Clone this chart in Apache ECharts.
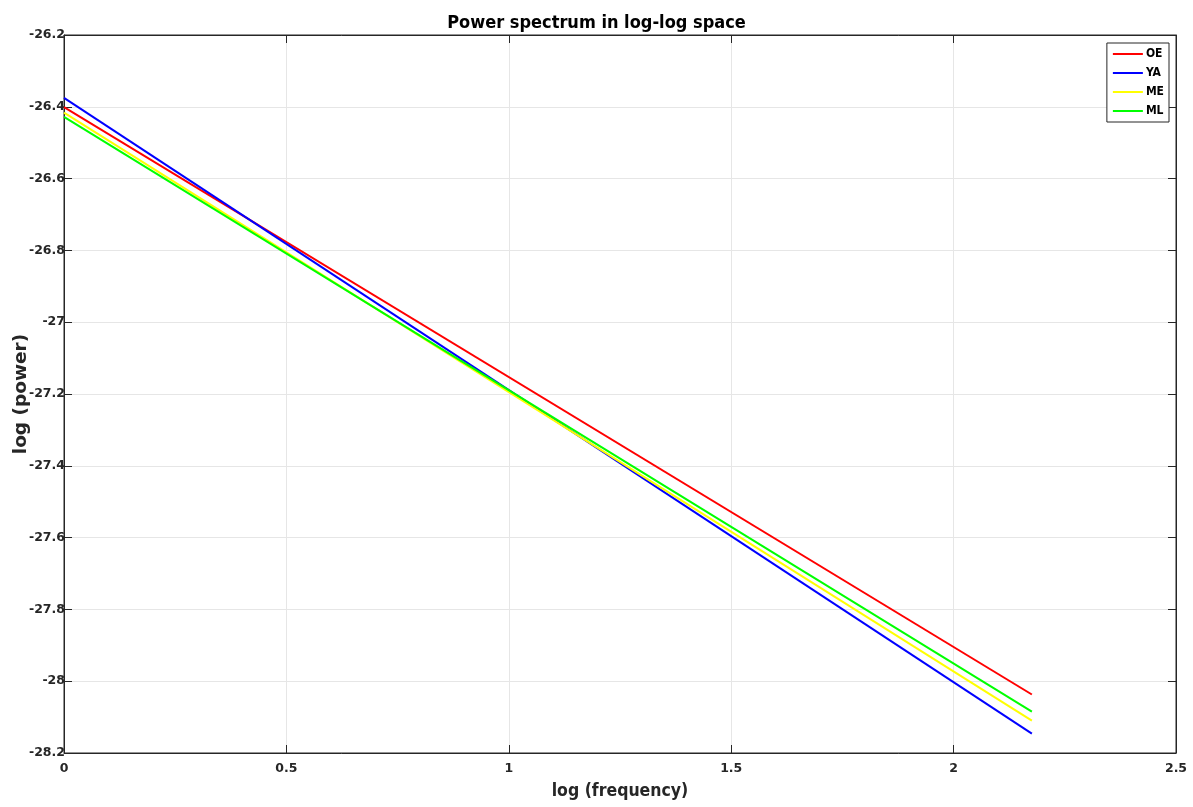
<!DOCTYPE html>
<html><head><meta charset="utf-8">
<script src="https://cdn.jsdelivr.net/npm/echarts@6/dist/echarts.min.js"></script>
<style>html,body{margin:0;padding:0;background:#fff}#c{width:1193px;height:807px}</style>
</head><body><div id="c"></div>
<script>
const names = ['OE','YA','ME','ML'];
const colors = ['#ff0000','#0000ff','#ffff00','#00ff00'];
const logFreq = [0, 2.176];
const OE = [-26.401, -28.037];
const YA = [-26.375, -28.146];
const ME = [-26.416, -28.110];
const ML = [-26.428, -28.085];
const seriesVals = [OE, YA, ME, ML];

const fontC = '"DejaVu Sans Condensed", "DejaVu Sans"';
const font = '"DejaVu Sans"';
const chart = echarts.init(document.getElementById('c'));
const axisCommon = {
  axisLine:{show:true,onZero:false,lineStyle:{color:'#262626',width:1}},
  axisTick:{show:true,inside:true,length:8,lineStyle:{color:'#262626'}},
};
chart.setOption({
  animation:false,
  title:{text:'Power spectrum in log-log space',left:'center',top:9,
    textStyle:{fontFamily:fontC,fontSize:18,fontWeight:'bold',color:'#000'}},
  grid:{left:64,right:17,top:35,bottom:54,show:true,borderColor:'#262626',borderWidth:1,
    outerBoundsMode:'none',containLabel:false},
  legend:{data:names,orient:'vertical',right:24,top:43,
    backgroundColor:'#fff',borderColor:'#262626',borderWidth:1,padding:[5,5,5,6],
    itemGap:7,itemWidth:30,itemHeight:2,icon:'rect',
    textStyle:{fontFamily:fontC,fontSize:12,fontWeight:'bold',color:'#000',padding:[0,0,0,-2]}},
  xAxis:[{type:'value',min:0,max:2.5,interval:0.5,...axisCommon,
    name:'log (frequency)',nameLocation:'middle',nameGap:29,nameMoveOverlap:false,
    nameTextStyle:{fontFamily:fontC,fontSize:17.5,fontWeight:'bold',color:'#262626'},
    axisLabel:{fontFamily:font,fontSize:12.5,fontWeight:'bold',color:'#262626',margin:9},
    splitLine:{show:true,lineStyle:{color:'#e6e6e6'}}},
    {type:'value',position:'top',min:0,max:2.5,interval:0.5,...axisCommon,axisLabel:{show:false},splitLine:{show:false}}],
  yAxis:[{type:'value',min:-28.2,max:-26.2,interval:0.2,...axisCommon,
    name:'log (power)',nameLocation:'middle',nameGap:33,nameMoveOverlap:false,
    nameTextStyle:{fontFamily:font,fontSize:18.5,fontWeight:'bold',color:'#262626'},
    axisLabel:{fontFamily:font,fontSize:12.5,fontWeight:'bold',color:'#262626',margin:-1,
      padding:[7,0,0,0],formatter:v=>String(Math.round(v*10)/10)},
    splitLine:{show:true,lineStyle:{color:'#e6e6e6'}}},
    {type:'value',position:'right',min:-28.2,max:-26.2,interval:0.2,...axisCommon,axisLabel:{show:false},splitLine:{show:false}}],
  series:names.map((n,i)=>({name:n,type:'line',showSymbol:false,symbol:'none',
    data:logFreq.map((x,j)=>[x,seriesVals[i][j]]),
    lineStyle:{color:colors[i],width:2},itemStyle:{color:colors[i]}}))
});
</script></body></html>
